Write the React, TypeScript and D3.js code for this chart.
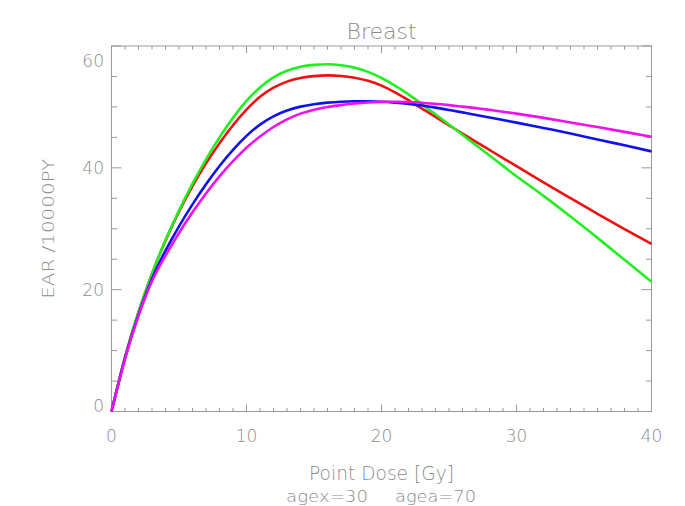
import React from "react";
import * as d3 from "d3";

const doses = [0, 1, 2, 3, 4, 5, 6, 7, 8, 9, 10, 11, 12, 13, 14, 15, 16, 17, 18, 19, 20, 21, 22, 23, 24, 25, 26, 27, 28, 29, 30, 32, 34, 36, 38, 40];

const greenVals = [0, 8.9, 16.3, 22.6, 28.1, 33.0, 37.4, 41.4, 45.0, 48.2, 51.0, 53.2, 54.85, 55.95, 56.6, 56.9, 57.0, 56.85, 56.45, 55.75, 54.75, 53.5, 52.05, 50.45, 48.8, 47.12, 45.42, 43.72, 42.02, 40.32, 38.62, 35.4, 32.0, 28.5, 24.9, 21.3];
const redVals = [0, 8.9, 16.3, 22.6, 28.05, 32.8, 37.0, 40.75, 44.05, 47.0, 49.55, 51.65, 53.15, 54.15, 54.75, 55.05, 55.17, 55.08, 54.8, 54.28, 53.5, 52.4, 51.1, 49.73, 48.35, 46.98, 45.62, 44.27, 42.93, 41.6, 40.27, 37.63, 35.02, 32.45, 29.95, 27.5];
const blueVals = [0, 8.75, 15.9, 21.8, 26.4, 30.4, 34.0, 37.3, 40.3, 42.95, 45.25, 47.1, 48.45, 49.4, 50.05, 50.45, 50.7, 50.85, 50.92, 50.92, 50.85, 50.7, 50.5, 50.22, 49.88, 49.5, 49.1, 48.68, 48.26, 47.84, 47.42, 46.55, 45.65, 44.65, 43.7, 42.7];
const magentaVals = [0, 8.6, 15.7, 21.4, 25.6, 29.3, 32.7, 35.8, 38.6, 41.1, 43.3, 45.15, 46.7, 47.95, 48.9, 49.55, 50.0, 50.3, 50.55, 50.72, 50.82, 50.85, 50.8, 50.68, 50.5, 50.3, 50.05, 49.8, 49.52, 49.22, 48.9, 48.2, 47.45, 46.7, 45.9, 45.1];

const seriesNames = ["red", "green", "blue", "magenta"];
const seriesValues = [redVals, greenVals, blueVals, magentaVals];
const seriesColors = ["#ee1111", "#22ee22", "#1111ee", "#ee11ee"];

const xTicks = [0, 10, 20, 30, 40];
const yTicks = [0, 20, 40, 60];

const title = "Breast";
const xTitle = "Point Dose [Gy]";
const yTitle = "EAR /10000PY";
const note1 = "agex=30";
const note2 = "agea=70";

const W = 685;
const H = 506;
const L = 111.5, R = 651.5, T = 46, B = 411.5;
const axisColor = "#999999";
const textColor = "#8c8c8c";
const font = "'DejaVu Sans', sans-serif";

export default function App() {
  const x = d3.scaleLinear().domain([0, 40]).range([L, R]);
  const y = d3.scaleLinear().domain([0, 60]).range([B, T]);
  const line = d3
    .line<[number, number]>()
    .x((p) => x(p[0]))
    .y((p) => y(p[1]))
    .curve(d3.curveNatural);

  const xMinor = d3.range(0, 41, 1);
  const yMinor = d3.range(0, 61, 5);

  return (
    <svg width={W} height={H} style={{ position: "absolute", left: 0, top: 0, background: "#fff" }}>
      <rect x={0} y={0} width={W} height={H} fill="#fff" />
      <rect x={L} y={T} width={R - L} height={B - T} fill="none" stroke={axisColor} strokeWidth={1} />
      {xMinor.map((v) => {
        const major = v % 10 === 0;
        const len = major ? 7 : 3.5;
        return (
          <g key={"xt" + v}>
            <line x1={x(v)} x2={x(v)} y1={B} y2={B - len} stroke={axisColor} strokeWidth={1} />
            <line x1={x(v)} x2={x(v)} y1={T} y2={T + len} stroke={axisColor} strokeWidth={1} />
          </g>
        );
      })}
      {yMinor.map((v) => {
        const major = v % 20 === 0;
        const len = major ? 10 : 5.5;
        return (
          <g key={"yt" + v}>
            <line x1={L} x2={L + len} y1={y(v)} y2={y(v)} stroke={axisColor} strokeWidth={1} />
            <line x1={R} x2={R - len} y1={y(v)} y2={y(v)} stroke={axisColor} strokeWidth={1} />
          </g>
        );
      })}
      {xTicks.map((v) => (
        <text key={"xl" + v} x={x(v)} y={442} textAnchor="middle" fontFamily={font} fontWeight={200} fontSize={17} fill={textColor}>
          {v}
        </text>
      ))}
      {yTicks.map((v) => {
        let yy = y(v) + 6.5;
        if (v === 60) yy = 67;
        if (v === 0) yy = 412;
        return (
          <text key={"yl" + v} x={104} y={yy} textAnchor="end" fontFamily={font} fontWeight={200} fontSize={17} fill={textColor}>
            {v}
          </text>
        );
      })}
      {seriesValues.map((vals, i) => (
        <path
          key={seriesNames[i]}
          d={line(doses.map((d, j) => [d, vals[j]] as [number, number])) || ""}
          fill="none"
          stroke={seriesColors[i]}
          strokeWidth={2.6}
          strokeLinejoin="round"
        />
      ))}
      <text x={(L + R) / 2} y={39} textAnchor="middle" fontFamily={font} fontWeight={200} fontSize={22} fill={textColor} textLength={70} lengthAdjust="spacingAndGlyphs">
        {title}
      </text>
      <text x={(L + R) / 2} y={480} textAnchor="middle" fontFamily={font} fontWeight={200} fontSize={20} fill={textColor} textLength={145} lengthAdjust="spacingAndGlyphs">
        {xTitle}
      </text>
      <text x={327} y={502} textAnchor="middle" fontFamily={font} fontWeight={200} fontSize={15} fill={textColor} textLength={82} lengthAdjust="spacingAndGlyphs">
        {note1}
      </text>
      <text x={435.5} y={502} textAnchor="middle" fontFamily={font} fontWeight={200} fontSize={15} fill={textColor} textLength={81} lengthAdjust="spacingAndGlyphs">
        {note2}
      </text>
      <text
        transform={`translate(54, ${(T + B) / 2}) rotate(-90)`}
        textAnchor="middle"
        fontFamily={font}
        fontWeight={200}
        fontSize={16}
        fill={textColor}
        textLength={140}
        lengthAdjust="spacingAndGlyphs"
      >
        {yTitle}
      </text>
    </svg>
  );
}
